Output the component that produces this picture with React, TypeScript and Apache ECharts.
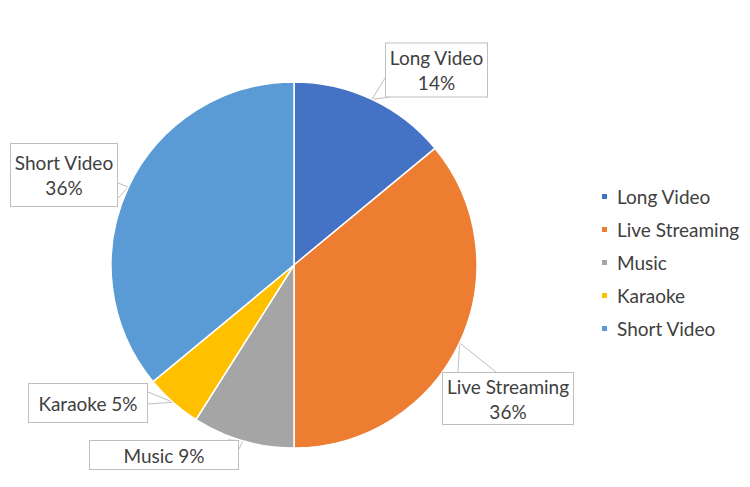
import React, { useEffect, useRef } from "react";
import * as echarts from "echarts";

const categories = ["Long Video", "Live Streaming", "Music", "Karaoke", "Short Video"];
const shares = [14, 36, 9, 5, 36];
const colors = ["#4472C4", "#ED7D31", "#A5A5A5", "#FFC000", "#5B9BD5"];
const singleLine = [false, false, true, true, false];

// callout box centres and sizes, and tail attachment points
const boxes = [
  { cx: 436.5, cy: 70, w: 103, h: 55, a: [385, 78], b: [390, 97] },
  { cx: 508, cy: 398.5, w: 132, h: 53, a: [458, 372], b: [496, 372] },
  { cx: 164, cy: 455, w: 150, h: 30, a: [228, 440], b: [239, 449] },
  { cx: 88, cy: 403, w: 120, h: 40, a: [148, 392], b: [148, 404] },
  { cx: 64, cy: 175, w: 108, h: 64, a: [118, 183], b: [118, 198] },
];

const FONT = "Lato, 'Open Sans', sans-serif";

export default function App() {
  const ref = useRef<HTMLDivElement>(null);
  useEffect(() => {
    document.body.style.margin = "0";
    if (!ref.current) return;
    const chart = echarts.init(ref.current, null, { renderer: "svg" });
    const data = categories.map((name, i) => ({
      name,
      value: shares[i],
      itemStyle: { color: colors[i] },
      label: {
        formatter: singleLine[i] ? "{b} {c}%" : "{b}\n{c}%",
        width: boxes[i].w - 2,
        height: boxes[i].h - 2,
      },
    }));
    chart.setOption({
      animation: false,
      backgroundColor: "#ffffff",
      legend: {
        orient: "vertical",
        left: 600,
        top: 187,
        padding: 0,
        icon: "rect",
        itemWidth: 7,
        itemHeight: 7,
        itemGap: 14,
        data: categories,
        textStyle: { fontSize: 19, color: "#404040", fontFamily: FONT, padding: [0, 0, 0, 4] },
      },
      series: [
        {
          type: "pie",
          center: [294, 265],
          radius: 183,
          startAngle: 90,
          clockwise: true,
          avoidLabelOverlap: false,
          itemStyle: { borderColor: "#ffffff", borderWidth: 1.5 },
          label: {
            show: true,
            position: "outside",
            color: "#404040",
            fontSize: 19,
            fontFamily: FONT,
            lineHeight: 25,
            align: "center",
            verticalAlign: "middle",
            backgroundColor: "#ffffff",
            borderColor: "#BFBFBF",
            borderWidth: 1,
          },
          labelLine: {
            show: true,
            lineStyle: { color: "#BFBFBF", width: 1 },
          },
          labelLayout: (params: any) => {
            const i = params.dataIndex;
            const bx = boxes[i];
            const tip = params.labelLinePoints ? params.labelLinePoints[0] : [bx.a[0], bx.a[1]];
            return {
              x: bx.cx,
              y: bx.cy,
              align: "center",
              verticalAlign: "middle",
              labelLinePoints: [bx.a, tip, bx.b],
            };
          },
          data,
        },
      ],
    });
    return () => chart.dispose();
  }, []);
  return <div ref={ref} style={{ width: 750, height: 487 }} />;
}
